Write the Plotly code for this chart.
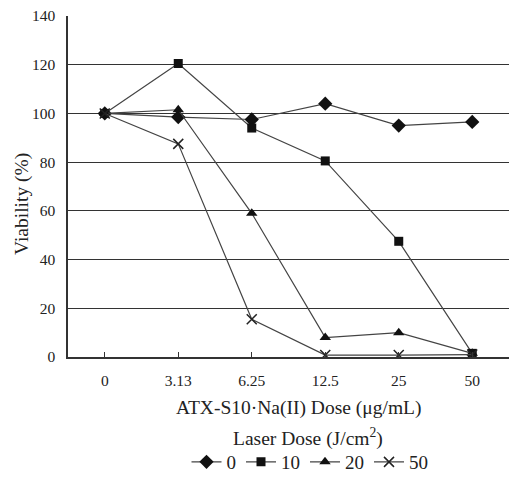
import plotly.graph_objects as go

doses = ["0", "3.13", "6.25", "12.5", "25", "50"]
laser_labels = ["0", "10", "20", "50"]
v0 = [100, 98.5, 97.5, 104, 95, 96.5]
v10 = [100, 120.5, 94, 80.5, 47.5, 1.5]
v20 = [100, 101.5, 59, 8, 10, 1.5]
v50 = [100, 87.5, 15.5, 0.8, 0.8, 1]
y_ticks = [0, 20, 40, 60, 80, 100, 120, 140]

series = [v0, v10, v20, v50]
symbols = ["diamond", "square", "triangle-up", "x-thin"]
sizes = [11, 9, 10, 10]

fig = go.Figure()
for name, vals, sym, sz in zip(laser_labels, series, symbols, sizes):
    mk = dict(symbol=sym, size=sz, color="#111")
    if sym == "x-thin":
        mk["line"] = dict(color="#222", width=1.5)
    fig.add_trace(go.Scatter(
        x=doses, y=vals, name=name, mode="lines+markers",
        line=dict(color="#444", width=1.2), marker=mk))

font = "Liberation Serif, Times New Roman, serif"
fig.update_layout(
    width=509, height=481,
    margin=dict(l=68, r=0, t=16, b=124, autoexpand=False),
    paper_bgcolor="white", plot_bgcolor="white",
    font=dict(family=font, color="#222"),
    showlegend=True,
    legend=dict(orientation="h", xref="container", x=310 / 509, xanchor="center",
                yref="container", y=(481 - 462) / 481, yanchor="middle",
                font=dict(size=19, family=font, color="#222"),
                itemwidth=30, tracegroupgap=0, bgcolor="rgba(0,0,0,0)"),
    xaxis=dict(type="category", range=[-0.5, 5.5], showgrid=False,
               showline=True, linecolor="#333", linewidth=1.5,
               ticks="inside", ticklen=5, tickcolor="#333",
               tickfont=dict(size=15.5), zeroline=False, ticklabelstandoff=9),
    yaxis=dict(range=[0, 140], tickvals=y_ticks, showgrid=True,
               gridcolor="#333", gridwidth=1.3, showline=True,
               linecolor="#333", linewidth=1.5, ticks="",
               tickfont=dict(size=15.5), zeroline=False, ticklabelstandoff=8),
    annotations=[
        dict(text="ATX-S10·Na(II) Dose (μg/mL)", xref="paper", yref="paper",
             x=(298 - 68) / 441, y=-(408 - 357) / 341, xanchor="center", yanchor="middle",
             showarrow=False, font=dict(size=19.5, family=font, color="#222")),
        dict(text="Laser Dose (J/cm<sup>2</sup>)", xref="paper", yref="paper",
             x=(308 - 68) / 441, y=-(437 - 357) / 341, xanchor="center", yanchor="middle",
             showarrow=False, font=dict(size=19.5, family=font, color="#222")),
        dict(text="Viability (%)", xref="paper", yref="paper",
             x=-(68 - 22) / 441, y=(357 - 204) / 341, xanchor="center", yanchor="middle",
             textangle=-90, showarrow=False, font=dict(size=19.5, family=font, color="#222")),
    ],
)
fig.write_html("out.html")
